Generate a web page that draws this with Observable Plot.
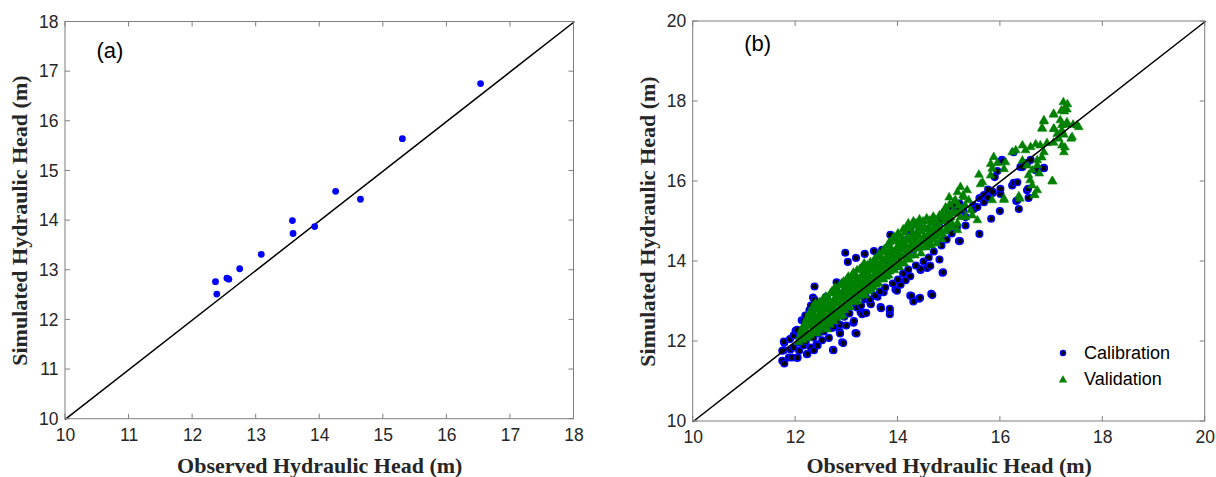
<!DOCTYPE html>
<html><head><meta charset="utf-8">
<script src="https://cdn.jsdelivr.net/npm/d3@7"></script>
<script src="https://cdn.jsdelivr.net/npm/@observablehq/plot@0.6"></script>
<style>
body{margin:0;background:#fff;}
#wrap{position:relative;width:1216px;height:477px;overflow:hidden;background:#fff;}
#pa{position:absolute;left:0;top:0;}
#pb{position:absolute;left:610px;top:0;}
svg g[aria-label="x-axis label"] text, svg g[aria-label="y-axis label"] text{font-family:"Liberation Serif","Times New Roman",serif;font-weight:bold;font-size:22px;fill:#262626;}
svg g[aria-label="x-axis tick label"] text, svg g[aria-label="y-axis tick label"] text{font-family:"Liberation Sans",Arial,sans-serif;font-size:17.5px;fill:#262626;}
svg g[aria-label="text"] text{font-family:"Liberation Sans",Arial,sans-serif;font-size:22px;fill:#000;}
#legend{position:absolute;left:1054px;top:340px;font-family:"Liberation Sans",Arial,sans-serif;font-size:18px;color:#000;}
#legend div{height:26px;display:flex;align-items:center;}
#legend svg{width:18px;height:16px;margin-right:12px;}
</style>
</head><body>
<div id="wrap"><div id="pa"></div><div id="pb"></div><div id="legend"></div></div>
<script>
// ---------- Panel (a) data ----------
const obsA = [12.36,12.38,12.54,12.57,12.74,13.08,13.57,13.58,13.92,14.25,14.64,15.30,16.53];
const simA = [12.77,12.52,12.84,12.82,13.03,13.32,14.00,13.74,13.88,14.59,14.43,15.65,16.76];
const ticksA = [10,11,12,13,14,15,16,17,18];
const domainA = [10,18];

// ---------- Panel (b) data ----------
const ticksB = [10,12,14,16,18,20];
const domainB = [10,20];
const legendLabels = ["Calibration","Validation"];
const calibration = [
[11.74,11.52],[11.78,11.45],[11.77,11.78],[11.78,11.97],[11.77,12.0],[11.74,11.77],[11.87,11.6],[11.9,11.8],[11.93,11.6],[11.89,12.06],
[11.96,11.85],[11.96,12.15],[12.0,12.27],[12.03,12.29],[12.03,11.59],[12.04,11.6],[12.07,11.77],[12.07,11.97],[12.12,12.53],[12.15,12.52],
[12.16,11.9],[12.19,12.65],[12.22,11.68],[12.23,11.69],[12.27,12.78],[12.27,12.68],[12.3,12.9],[12.3,11.85],[12.34,13.1],[12.36,11.78],
[12.37,13.375],[12.37,13.04],[12.41,11.93],[12.43,11.9],[12.44,12.52],[12.52,12.03],[12.6,13.12],[12.61,13.12],[12.65,12.09],[12.71,12.34],
[12.73,11.79],[12.74,12.37],[12.74,11.78],[12.79,13.31],[12.8,13.48],[12.88,13.44],[12.86,12.25],[12.87,12.42],[12.87,12.2],[12.91,11.98],
[12.93,11.96],[12.93,13.43],[12.97,14.22],[12.99,12.4],[13.02,13.99],[13.13,12.47],[13.14,12.51],[13.14,13.11],[13.17,12.21],[13.17,12.95],
[13.17,13.1],[13.18,14.09],[13.19,12.2],[13.27,12.73],[13.3,12.68],[13.3,13.25],[13.35,14.19],[13.35,13.06],[13.37,12.72],[13.37,13.11],
[13.38,12.71],[13.4,13.3],[13.46,12.96],[13.47,12.93],[13.53,14.26],[13.6,13.12],[13.66,12.86],[13.67,12.83],[13.69,14.29],[13.72,13.23],
[13.84,12.68],[13.84,12.77],[13.84,12.82],[13.85,14.67],[13.95,13.3],[13.98,13.27],[14.05,13.42],[14.11,14.53],[14.15,13.53],[14.24,13.63],
[14.24,13.15],[14.24,14.78],[14.26,13.14],[14.3,13.0],[14.41,13.07],[14.43,13.09],[14.44,13.79],[14.44,13.81],[14.57,13.84],[14.63,13.89],
[14.65,13.19],[14.67,13.16],[14.81,14.05],[14.87,13.72],[14.88,13.73],[14.77,15.02],[14.83,15.04],[14.99,15.19],[15.08,15.29],[15.2,15.31],
[15.32,15.11],[15.19,14.51],[15.05,15.37],[15.13,15.44],[15.2,15.45],[15.21,14.51],[15.27,15.29],[15.32,14.9],[15.47,15.4],[15.48,15.31],
[15.55,15.36],[15.59,14.69],[15.59,15.58],[15.62,15.6],[15.68,15.48],[15.68,15.66],[15.76,15.6],[15.76,15.8],[15.82,15.07],[15.85,15.71],
[15.85,15.74],[15.89,16.11],[15.94,16.26],[15.99,15.26],[16.0,15.69],[16.0,15.82],[16.03,16.54],[16.05,16.51],[16.23,15.9],[16.26,15.97],
[16.26,16.73],[16.31,15.51],[16.33,15.98],[16.33,15.53],[16.36,15.31],[16.39,16.36],[16.43,16.36],[16.52,15.78],[16.52,16.46],[16.54,15.82],
[16.55,15.59],[16.59,16.54],[16.69,16.28],[16.71,16.28],[16.85,16.34],[16.85,16.33],
[12.5,12.5],[12.7,12.8],[13.0,13.0],[13.2,13.3],[13.5,13.5],[13.8,13.9],[14.0,14.1],[14.3,14.3],[14.6,14.5],[14.8,14.9],[15.0,15.0],
[12.45,12.2],[12.55,12.25],[12.62,12.4],[12.8,12.5],[12.95,12.62],[13.05,12.7],[13.2,12.85],[13.28,12.9],[13.45,13.05],[13.55,13.15],
[13.65,13.25],[13.75,13.35],[13.9,13.45],[14.0,13.55],[14.1,13.7],[14.2,13.8],[14.35,13.9],[14.5,14.0],[14.6,14.1],[14.7,14.25],
[14.85,14.4],[14.95,14.55],[15.05,14.7],[15.15,14.85],[12.2,12.0],[12.35,12.1],[13.35,13.6],[12.9,13.2]
];
const validation = [
[12.06,11.98],[12.1,12.05],[12.12,12.2],[12.15,12.35],[12.18,12.1],[12.2,12.45],[12.22,12.25],[12.25,12.6],[12.28,12.15],[12.3,12.4],
[12.32,12.7],[12.35,12.3],[12.38,12.55],[12.4,12.82],[12.42,12.2],[12.45,12.45],[12.48,12.68],[12.5,12.9],[12.52,12.35],[12.55,12.6],
[12.58,12.8],[12.6,13.0],[12.62,12.3],[12.65,12.55],[12.68,13.2],[12.7,12.75],[12.72,12.95],[12.75,12.5],[12.78,13.1],[12.8,13.3],
[12.82,12.7],[12.85,12.95],[12.88,13.15],[12.9,13.45],[12.92,12.65],[12.95,13.05],[12.98,13.3],[13.0,13.55],[13.02,12.9],[13.05,13.2],
[13.08,13.4],[13.1,13.65],[13.12,13.0],[13.15,13.3],[13.18,13.5],[13.2,13.78],[13.22,13.1],[13.25,13.4],[13.28,13.6],[13.3,13.85],
[13.32,13.2],[13.35,13.5],[13.38,13.7],[13.4,13.9],[13.42,13.25],[13.45,13.55],[13.48,13.78],
[13.5,13.95],[13.52,13.35],[13.55,13.65],[13.58,13.85],[13.6,14.1],[13.62,13.45],[13.65,13.75],[13.68,14.0],[13.7,14.25],[13.72,13.55],
[13.75,13.85],[13.78,14.1],[13.8,14.4],[13.82,13.65],[13.85,13.95],[13.88,14.2],[13.9,14.55],[13.93,13.78],[13.95,14.05],[13.98,14.35],
[14.0,14.7],[14.03,13.85],[14.05,14.15],[14.08,14.45],[14.1,14.8],[14.12,13.95],[14.15,14.3],[14.18,14.6],[14.2,14.95],[14.22,14.05],
[14.25,14.4],[14.28,14.7],[14.3,15.0],[14.33,14.15],[14.36,14.5],[14.4,14.8],[14.42,15.05],[14.45,14.2],[14.48,14.55],[14.52,14.85],
[14.55,14.35],[14.58,14.65],[14.62,15.02],[14.65,14.4],[14.7,14.75],[14.72,15.05],[14.75,14.45],[14.8,14.9],[14.85,14.55],[14.88,15.1],
[14.92,14.75],[14.95,15.3],[14.98,14.9],[15.0,15.6],[15.03,15.1],
[12.08,12.12],[12.11,12.28],[12.14,12.03],[12.17,12.42],[12.19,12.22],[12.21,12.55],[12.24,12.08],[12.26,12.38],[12.27,12.72],[12.29,12.5],
[12.31,12.22],[12.33,12.58],[12.34,12.88],[12.36,12.41],[12.37,12.66],[12.39,12.95],[12.41,12.33],[12.43,12.6],[12.44,12.78],[12.46,12.28],
[12.47,12.98],[12.49,12.52],[12.51,12.74],[12.53,13.05],[12.54,12.44],[12.56,12.88],[12.57,12.66],[12.59,13.12],[12.61,12.48],[12.63,12.85],
[12.64,13.08],[12.66,12.7],[12.67,12.42],[12.69,12.92],[12.71,13.25],[12.73,12.62],[12.74,13.02],[12.76,12.82],[12.77,13.35],[12.79,12.58],
[12.81,13.0],[12.83,13.22],[12.84,12.8],[12.86,13.4],[12.87,12.62],[12.89,13.06],[12.91,12.86],[12.93,13.28],[12.94,13.5],[12.96,12.78],
[12.97,13.15],[12.99,12.95],[13.01,13.38],[13.03,13.62],[13.04,13.05],[13.06,12.85],[13.07,13.28],[13.09,13.5],[13.11,13.12],[13.13,13.72],
[13.14,12.98],[13.16,13.42],[13.17,13.2],[13.19,13.62],[13.21,13.0],[13.23,13.3],[13.24,13.52],[13.26,13.82],[13.27,13.15],[13.29,13.45],
[13.31,13.7],[13.33,13.32],[13.34,13.95],[13.36,13.15],[13.37,13.6],[13.39,13.42],[13.41,13.8],[13.43,13.38],[13.44,13.65],[13.46,13.98],
[13.47,13.3],[13.49,13.55],[13.51,13.82],[13.53,13.48],[13.54,14.05],[13.56,13.72],[13.57,13.42],[13.59,13.95],[13.61,13.6],[13.63,14.18],
[13.64,13.55],[13.66,13.88],[13.67,14.1],[13.69,13.65],[13.71,13.98],[13.73,14.3],[13.74,13.72],[13.76,14.05],[13.77,13.62],[13.79,14.22],
[13.81,13.85],[13.83,14.48],[13.84,13.75],[13.86,14.08],[13.87,14.32],[13.89,13.88],[13.91,14.15],[13.92,14.62],[13.94,13.9],[13.96,14.25],
[13.97,14.5],[13.99,13.98],[14.01,14.4],[14.02,14.2],[14.04,14.62],[14.06,13.95],[14.07,14.3],[14.09,14.55],[14.11,14.12],[14.13,14.72],
[14.14,14.42],[14.16,14.05],[14.17,14.85],[14.19,14.25],[14.21,14.52],[14.23,14.82],[14.24,14.15],[14.26,14.58],[14.27,14.3],[14.29,14.88],
[14.31,14.45],[14.32,14.62],[14.34,14.32],[14.35,14.95],[14.37,14.7],[14.38,14.4],[14.41,14.62],[14.43,14.92],[14.44,14.35],[14.46,14.75],
[14.47,14.48],[14.49,15.0],[14.51,14.62],[14.53,14.38],[14.54,14.8],[14.56,15.08],[14.57,14.52],[14.6,14.85],[14.61,14.45],[14.63,14.72],
[14.66,14.95],[14.68,14.55],[14.69,15.12],[14.71,14.85],[14.74,14.62],[14.76,15.0],[14.78,14.7],[14.81,15.15],[14.83,14.8],[14.86,15.2],
[14.87,14.68],[14.9,15.0],[14.93,15.35],[14.96,14.82],[14.97,15.15],[15.01,15.42],[15.04,14.98],[15.07,15.25],[15.1,15.5],[15.14,15.2],
[15.18,15.4],[15.24,15.3],[15.27,15.65],[15.31,15.4],
[15.06,14.86],[15.12,15.53],[15.16,14.95],[15.16,14.78],[15.16,15.73],[15.22,15.86],[15.22,15.11],[15.29,15.61],[15.32,15.11],[15.35,15.78],
[15.38,15.53],[15.42,15.28],[15.45,15.15],[15.55,15.03],[15.58,16.17],[15.61,15.93],[15.65,15.98],[15.81,16.15],[15.81,16.44],[15.84,15.53],
[15.84,16.32],[15.87,16.61],[15.94,16.46],[16.07,15.54],[16.07,15.57],[16.07,16.31],[16.1,16.48],[16.23,16.73],[16.3,16.78],[16.36,15.63],
[16.38,15.57],[16.43,16.9],[16.43,16.52],[16.49,16.78],[16.52,16.4],[16.55,16.16],[16.58,16.03],[16.59,16.86],[16.62,16.28],[16.62,15.9],
[16.66,15.66],[16.67,15.67],[16.69,16.93],[16.72,16.53],[16.72,16.4],[16.72,15.78],[16.76,16.2],[16.78,16.9],[16.81,16.6],[16.81,17.33],
[16.82,17.32],[16.85,16.73],[16.85,17.53],[16.85,17.5],[16.91,16.96],[17.01,16.01],[17.02,16.0],[17.04,17.69],[17.04,17.67],[17.04,17.32],
[17.04,16.97],[17.05,17.31],[17.11,17.19],[17.14,17.07],[17.17,17.53],[17.19,17.77],[17.2,17.41],[17.2,17.27],[17.2,16.9],[17.23,17.98],
[17.24,16.73],[17.24,17.17],[17.25,17.75],[17.25,17.82],[17.26,16.85],[17.29,17.42],[17.3,17.8],[17.3,17.48],[17.31,17.93],[17.38,17.07],
[17.4,17.11],[17.42,17.42],[17.5,17.4],[17.53,17.36]
];

// ---------- styles ----------
const FRAME = "#7f7f7f";
const TICKLEN = 5;
const XLABEL = "Observed Hydraulic Head (m)";
const YLABEL = "Simulated Hydraulic Head (m)";

function boxMark(xt, yt) {
  return (index, scales, values, dimensions) => {
    const {width, height, marginLeft, marginRight, marginTop, marginBottom} = dimensions;
    const L = marginLeft, R = width - marginRight, T = marginTop, B = height - marginBottom;
    const g = d3.create("svg:g").attr("fill", "none").attr("stroke", FRAME).attr("stroke-width", 1);
    g.append("rect").attr("x", L).attr("y", T).attr("width", R - L).attr("height", B - T);
    for (const t of xt) {
      const px = scales.x(t);
      g.append("path").attr("d", `M${px},${B}v${-TICKLEN}M${px},${T}v${TICKLEN}`);
    }
    for (const t of yt) {
      const py = scales.y(t);
      g.append("path").attr("d", `M${L},${py}h${TICKLEN}M${R},${py}h${-TICKLEN}`);
    }
    return g.node();
  };
}

const diagA = domainA.map(v => ({x: v, y: v}));
const diagB = domainB.map(v => ({x: v, y: v}));
const ptsA = obsA.map((o, i) => ({x: o, y: simA[i]}));
const calB = calibration.map(([x, y]) => ({x, y}));
const valB = validation.map(([x, y]) => ({x, y}));

const plotA = Plot.plot({
  width: 600, height: 477,
  marginLeft: 65, marginRight: 26.5, marginTop: 21.5, marginBottom: 58.3,
  x: {domain: domainA},
  y: {domain: domainA},
  marks: [
    Plot.line(diagA, {x: "x", y: "y", stroke: "#000", strokeWidth: 1.5}),
    Plot.dot(ptsA, {x: "x", y: "y", r: 3.4, fill: "#0000ff", stroke: "none"}),
    boxMark(ticksA, ticksA),
    Plot.axisX({ticks: ticksA, tickSize: 0, tickPadding: 9, tickFormat: d => d, label: XLABEL, labelAnchor: "center", labelArrow: "none", labelOffset: 54}),
    Plot.axisY({ticks: ticksA, tickSize: 0, tickPadding: 7, tickFormat: d => d, label: YLABEL, labelAnchor: "center", labelArrow: "none", labelOffset: 54}),
    Plot.text(["(a)"], {frameAnchor: "top-left", dx: 31, dy: 28.5, textAnchor: "start", lineAnchor: "middle"})
  ]
});
document.getElementById("pa").append(plotA);

const plotB = Plot.plot({
  width: 606, height: 477,
  marginLeft: 82.7, marginRight: 11.3, marginTop: 21, marginBottom: 56,
  x: {domain: domainB},
  y: {domain: domainB},
  marks: [
    Plot.dot(calB, {x: "x", y: "y", r: 3.3, fill: "#000", stroke: "#0000ff", strokeWidth: 1.5}),
    Plot.dot(valB, {x: "x", y: "y", r: 3.3, symbol: "triangle", fill: "#008000", stroke: "#008000", strokeWidth: 0.5}),
    Plot.line(diagB, {x: "x", y: "y", stroke: "#000", strokeWidth: 1.5}),
    boxMark(ticksB, ticksB),
    Plot.axisX({ticks: ticksB, tickSize: 0, tickPadding: 9, tickFormat: d => d, label: XLABEL, labelAnchor: "center", labelArrow: "none", labelOffset: 51}),
    Plot.axisY({ticks: ticksB, tickSize: 0, tickPadding: 7, tickFormat: d => d, label: YLABEL, labelAnchor: "center", labelArrow: "none", labelOffset: 54}),
    Plot.text(["(b)"], {frameAnchor: "top-left", dx: 51, dy: 22.3, textAnchor: "start", lineAnchor: "middle"})
  ]
});
document.getElementById("pb").append(plotB);

// legend
const legend = d3.select("#legend");
const sym = [
  s => s.append("circle").attr("cx", 9).attr("cy", 8).attr("r", 2.6).attr("fill", "#000").attr("stroke", "#0000ff").attr("stroke-width", 1.3),
  s => s.append("path").attr("d", d3.symbol(d3.symbolTriangle, 30)()).attr("transform", "translate(9,9)").attr("fill", "#008000")
];
legendLabels.forEach((lab, i) => {
  const row = legend.append("div");
  const s = row.append("svg");
  sym[i](s);
  row.append("span").text(lab);
});
</script>
</body></html>
